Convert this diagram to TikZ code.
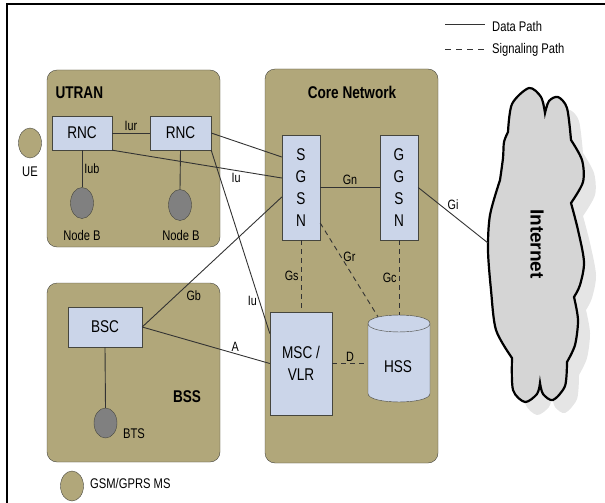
\documentclass[tikz,border=0pt]{standalone}
\usepackage{fontspec}
\setmainfont{Liberation Sans}[FakeStretch=0.8]
\newfontfamily\inetfont{Liberation Sans}
\usetikzlibrary{shapes.geometric}
\definecolor{khaki}{RGB}{177,167,122}
\definecolor{boxblue}{RGB}{203,213,233}
\definecolor{btsgray}{RGB}{128,128,128}
\definecolor{edgegray}{RGB}{70,70,62}
\newcommand{\cloudoutline}{(508,132)
  -- plot[smooth] coordinates {(508,132) (512,104) (529,88) (541,97) (545,113)}
  -- plot[smooth] coordinates {(545,113) (549,101) (558,97) (567,108) (571,140)}
  -- plot[smooth] coordinates {(571,140) (582,160) (583,182) (571,203)}
  -- plot[smooth] coordinates {(571,203) (578,230) (584,262) (580,285) (574,297)}
  -- plot[smooth] coordinates {(574,297) (578,320) (575,345) (567,362)}
  -- plot[smooth] coordinates {(567,362) (565,386) (553,400) (543,394) (540,383)}
  -- plot[smooth] coordinates {(540,383) (537,394) (525,402) (513,390) (512,358)}
  -- plot[smooth] coordinates {(512,358) (496,330) (491,290) (488,250) (490,215) (500,180)}
  -- plot[smooth] coordinates {(500,180) (503,158) (504,142) (508,132)} -- cycle}

\begin{document}
\begin{tikzpicture}[x=1pt, y=-1pt,
  zone/.style={draw=edgegray, fill=khaki, rounded corners=10pt, inner sep=0pt},
  ent/.style={draw=edgegray, fill=boxblue, inner sep=0pt, align=center, font=\fontsize{17}{22}\selectfont},
  station/.style={ellipse, draw=edgegray, fill=btsgray, minimum width=23pt, minimum height=31pt, inner sep=0pt},
  mobile/.style={ellipse, draw=edgegray, fill=khaki, minimum width=23pt, minimum height=30pt, inner sep=0pt},
  zonetitle/.style={font=\bfseries\fontsize{17}{20}\selectfont},
  lbl/.style={font=\fontsize{13.5}{16}\selectfont, inner sep=2pt},
  sublbl/.style={font=\fontsize{14}{17}\selectfont, inner sep=0pt},
  datalink/.style={draw=black!80, line width=0.9pt},
  siglink/.style={draw=black!80, line width=0.9pt, dash pattern=on 5pt off 4pt}
]
\useasboundingbox (0,0) rectangle (605,503);
\draw[line width=1.4pt] (7,503) -- (7,4) -- (605,4);

\coordinate (d1) at (445,24);
\coordinate (d2) at (485,24);
\coordinate (s1) at (445,49);
\coordinate (s2) at (485,49);
\draw[datalink] (d1) -- (d2);
\draw[siglink, dash pattern=on 6pt off 5pt] (s1) -- (s2);
\node[sublbl, anchor=west] (datakey) at (492,26) {Data Path};
\node[sublbl, anchor=west] (sigkey) at (492,50) {Signaling Path};

\node[zone, minimum width=173pt, minimum height=177pt] (utran) at (133.5,158.5) {};
\node[zone, minimum width=173pt, minimum height=394pt] (core) at (351.5,266) {};
\node[zone, minimum width=173pt, minimum height=179pt] (bss) at (133.5,372.5) {};
\node[zonetitle, anchor=west] (utrantitle) at (52,93) {UTRAN};
\node[zonetitle] (coretitle) at (352,92) {Core Network};
\node[zonetitle] (bsstitle) at (187,397) {BSS};

\node[ent, minimum width=60pt, minimum height=34pt] (rnc1) at (82,133) {RNC};
\node[ent, minimum width=61pt, minimum height=34pt] (rnc2) at (180.5,133) {RNC};
\node[station] (nodeb1) at (82,203) {};
\node[station] (nodeb2) at (180,205) {};
\node[sublbl] (nodeb1cap) at (82,235) {Node B};
\node[sublbl] (nodeb2cap) at (181,235) {Node B};
\node[mobile] (ue) at (30,143) {};
\node[sublbl] (uecap) at (30,172) {UE};

\node[ent, minimum width=38pt, minimum height=105pt] (sgsn) at (301,187.5) {S\\G\\S\\N};
\node[ent, minimum width=38pt, minimum height=105pt] (ggsn) at (399,187.5) {G\\G\\S\\N};
\node[ent, minimum width=62pt, minimum height=103pt] (msc) at (301,363.5) {MSC /\\VLR};

\node[inner sep=0pt, minimum width=62pt, minimum height=87pt] (hss) at (399,358.5) {};
\filldraw[draw=edgegray, fill=boxblue] (368,323.5) -- (368,393.5)
  .. controls (368,404.8) and (430,404.8) .. (430,393.5) -- (430,323.5)
  .. controls (430,312.2) and (368,312.2) .. (368,323.5) -- cycle;
\draw[edgegray] (368,323.5) .. controls (368,334.8) and (430,334.8) .. (430,323.5);
\node[ent, draw=none, fill=none] (hsscap) at (398,367) {HSS};

\node[ent, minimum width=74pt, minimum height=40pt] (bsc) at (105,327) {BSC};
\node[station, minimum height=30pt] (bts) at (105.5,423) {};
\node[sublbl] (btscap) at (134,434) {BTS};
\node[mobile] (ms) at (72,486) {};
\node[sublbl, anchor=west] (mscap) at (90,483) {GSM/GPRS MS};

\fill[gray!20, xshift=12pt, yshift=-13pt] \cloudoutline;
\draw[line width=2.2pt, fill=gray!33] \cloudoutline;
\node[rotate=-90, font=\inetfont\bfseries\fontsize{19}{22}\selectfont] (inet) at (537,244) {Internet};
\coordinate (giend) at (488,243);

\draw[datalink] (rnc1) -- node[lbl, above] (iur) {Iur} (rnc2);
\draw[datalink] (rnc1.south) -- node[lbl, right] (iub) {Iub} (nodeb1.north);
\draw[datalink] (rnc2.south) -- (nodeb2.north);
\draw[datalink] (rnc2.east) -- ([yshift=30.5pt]sgsn.west);
\draw[datalink] (rnc1.south east) -- node[lbl, pos=0.73, below] (iu1) {Iu} ([yshift=9.5pt]sgsn.west);
\draw[datalink] (rnc2.south east) -- node[lbl, pos=0.82, left] (iu2) {Iu} ([yshift=30pt]msc.west);
\draw[datalink] (bsc.east) -- node[lbl, pos=0.3, below right] (gb) {Gb} ([yshift=-9.5pt]sgsn.west);
\draw[datalink] (bsc.east) -- node[lbl, pos=0.73, above] (alabel) {A} (msc.west);
\draw[datalink] (sgsn) -- node[lbl, above] (gn) {Gn} (ggsn);
\draw[datalink] (ggsn.east) -- node[lbl, above=3pt] (gi) {Gi} (giend);
\draw[datalink] (bsc.south) -- (bts.north);
\draw[siglink] (sgsn.south) -- node[lbl, left] (gs) {Gs} (msc.north);
\draw[siglink] (ggsn.south) -- node[lbl, left] (gc) {Gc} (hss.north);
\draw[siglink] ([yshift=-35.5pt]sgsn.east) -- node[lbl, pos=0.36, right] (gr) {Gr} ([xshift=-21pt, yshift=-2pt]hss.north);
\draw[siglink] (msc.east) -- node[lbl, above] (dlabel) {D} (msc.east -| hss.west);
\end{tikzpicture}
\end{document}
